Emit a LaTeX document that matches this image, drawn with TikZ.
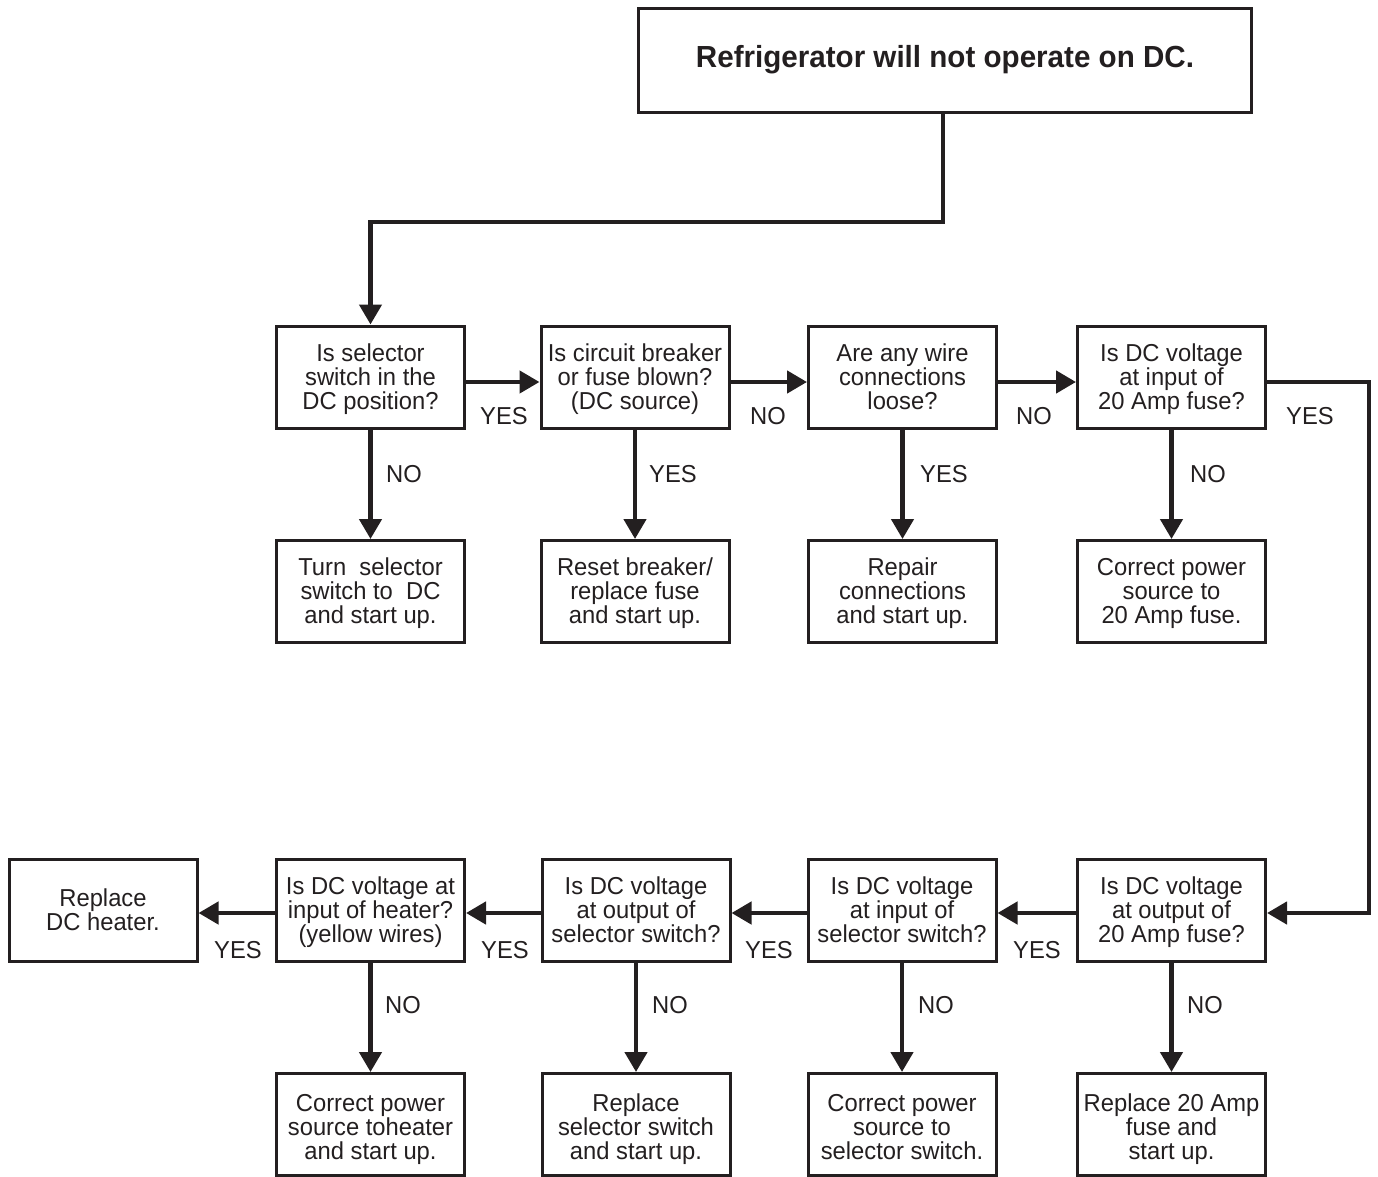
\documentclass[tikz,border=0pt]{standalone}
\usepackage{fontspec}
\setmainfont{Liberation Sans}[FakeStretch=0.97]
\usetikzlibrary{arrows.meta}
\definecolor{ink}{HTML}{231F20}
\newcommand\boxtop{\rule{0pt}{23.8pt}}
\newcommand\boxtopdown{\rule{0pt}{29.5pt}}
\newcommand\boxbot{\rule[-7.2pt]{0pt}{7.2pt}}
\tikzset{
  box/.style={draw=ink, line width=3pt, minimum width=188pt, minimum height=102pt,
    inner sep=0pt, align=center, text=ink,
    font=\fontsize{24.5pt}{24pt}\selectfont},
  titlebox/.style={box, minimum width=613pt, minimum height=104pt,
    font=\fontsize{30.5pt}{30pt}\selectfont\bfseries},
  lbl/.style={text=ink, inner sep=0pt, font=\fontsize{24.5pt}{24pt}\selectfont},
  arr/.style={draw=ink, line width=4.5pt, -{Triangle[length=20pt,width=22pt]}},
}
\begin{document}
\begin{tikzpicture}[x=1pt,y=-1pt]
\useasboundingbox (0,0) rectangle (1378,1177);
% top
\node[titlebox] (top) at (945,60.5) {\rule{0pt}{23pt}Refrigerator will not operate on DC.\rule[-8pt]{0pt}{8pt}};
% row 1
\node[box] (b1) at (370.5,377) {\boxtop Is selector\\switch in the\\DC position?\boxbot};
\node[box] (b2) at (635,377) {\boxtop Is circuit breaker\\or fuse blown?\\(DC source)\boxbot};
\node[box] (b3) at (902.5,377) {\boxtop Are any wire\\connections\\loose?\boxbot};
\node[box] (b4) at (1171.5,377) {\boxtop Is DC voltage\\at input of\\20 Amp fuse?\boxbot};
% row 2
\node[box] (a1) at (370.5,591.5) {\boxtop Turn\ \ selector\\switch to\ \ DC\\and start up.\boxbot};
\node[box] (a2) at (635,591.5) {\boxtop Reset breaker/\\replace fuse\\and start up.\boxbot};
\node[box] (a3) at (902.5,591.5) {\boxtop Repair\\connections\\and start up.\boxbot};
\node[box] (a4) at (1171.5,591.5) {\boxtop Correct power\\source to\\20 Amp fuse.\boxbot};
% row 3
\node[box] (c0) at (103,910) {\boxtop Replace\\DC heater.\boxbot};
\node[box] (c1) at (370.5,910) {\boxtop Is DC voltage at\\input of heater?\\(yellow wires)\boxbot};
\node[box] (c2) at (636,910) {\boxtop Is DC voltage\\at output of\\selector switch?\boxbot};
\node[box] (c3) at (902,910) {\boxtop Is DC voltage\\at input of\\selector switch?\boxbot};
\node[box] (c4) at (1171.5,910) {\boxtop Is DC voltage\\at output of\\20 Amp fuse?\boxbot};
% row 4
\node[box] (d1) at (370.5,1124.5) {\boxtopdown Correct power\\source toheater\\and start up.\boxbot};
\node[box] (d2) at (636,1124.5) {\boxtopdown Replace\\selector switch\\and start up.\boxbot};
\node[box] (d3) at (902,1124.5) {\boxtopdown Correct power\\source to\\selector switch.\boxbot};
\node[box] (d4) at (1171.5,1124.5) {\boxtopdown Replace 20 Amp\\fuse and\\start up.\boxbot};
% connectors
\coordinate (k1) at (943,222);
\draw[arr] (k1 |- top.south) -- (k1) -| (b1.north);
\draw[arr] ([yshift=-5pt]b1.east) -- ([yshift=-5pt]b2.west);
\draw[arr] ([yshift=-5pt]b2.east) -- ([yshift=-5pt]b3.west);
\draw[arr] ([yshift=-5pt]b3.east) -- ([yshift=-5pt]b4.west);
\coordinate (k2) at (1369,382);
\draw[arr] ([yshift=-5pt]b4.east) -- (k2) |- ([yshift=-3pt]c4.east);
\foreach \u/\v in {b1/a1,b2/a2,b3/a3,b4/a4,c1/d1,c2/d2,c3/d3,c4/d4}
  \draw[arr] (\u.south) -- (\v.north);
\draw[arr] ([yshift=-3pt]c4.west) -- ([yshift=-3pt]c3.east);
\draw[arr] ([yshift=-3pt]c3.west) -- ([yshift=-3pt]c2.east);
\draw[arr] ([yshift=-3pt]c2.west) -- ([yshift=-3pt]c1.east);
\draw[arr] ([yshift=-3pt]c1.west) -- ([yshift=-3pt]c0.east);
% labels
\node[lbl] (l1) at (504,416) {YES};
\node[lbl] (l2) at (768,416) {NO};
\node[lbl] (l3) at (1034,416) {NO};
\node[lbl] (l4) at (1310,416) {YES};
\node[lbl] (l5) at (404,474) {NO};
\node[lbl] (l6) at (673,474) {YES};
\node[lbl] (l7) at (944,474) {YES};
\node[lbl] (l8) at (1208,474) {NO};
\node[lbl] (m1) at (238,950) {YES};
\node[lbl] (m2) at (505,950) {YES};
\node[lbl] (m3) at (769,950) {YES};
\node[lbl] (m4) at (1037,950) {YES};
\node[lbl] (m5) at (403,1005) {NO};
\node[lbl] (m6) at (670,1005) {NO};
\node[lbl] (m7) at (936,1005) {NO};
\node[lbl] (m8) at (1205,1005) {NO};
\end{tikzpicture}
\end{document}
